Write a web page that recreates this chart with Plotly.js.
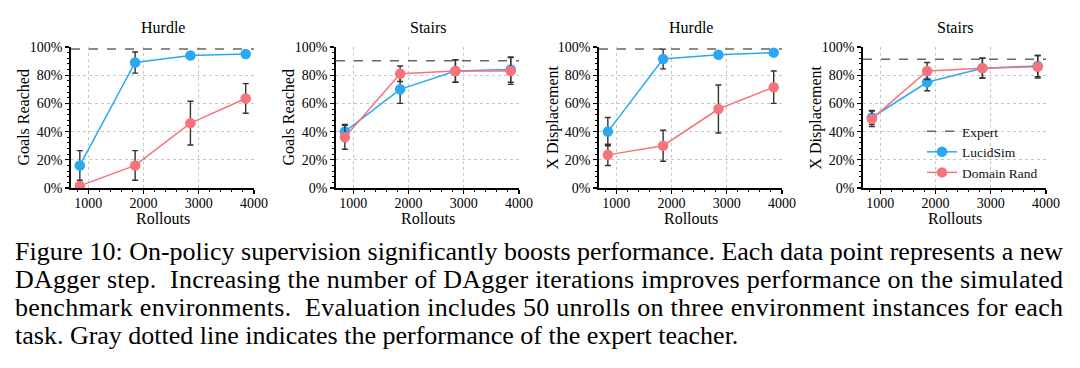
<!DOCTYPE html>
<html>
<head>
<meta charset="utf-8">
<script src="https://cdn.plot.ly/plotly-3.0.1.min.js"></script>
<style>
  html, body { margin: 0; padding: 0; background: #fff; }
  #chart { width: 1080px; height: 368px; }
</style>
</head>
<body>
<div id="chart"></div>
<script>
// ---------------- data ----------------
const rollouts = [850, 1850, 2850, 3850];
const panelTitles = ["Hurdle", "Stairs", "Hurdle", "Stairs"];
const yTitles = ["Goals Reached", "Goals Reached", "X Displacement", "X Displacement"];
const xTitle = "Rollouts";
const seriesNames = ["Expert", "LucidSim", "Domain Rand"];

const hurdleGoalsLucid = [16, 89, 94, 95];
const hurdleGoalsLucidErr = [10.5, 7.5, 1, 1.5];
const hurdleGoalsDR = [1.5, 16, 46, 63.5];
const hurdleGoalsDRErr = [1, 10.5, 15.5, 10.5];
const hurdleGoalsExpert = 98.5;

const stairsGoalsLucid = [40, 70, 83, 84];
const stairsGoalsLucidErr = [5, 10, 8, 9];
const stairsGoalsDR = [36, 81, 83, 83];
const stairsGoalsDRErr = [8.5, 5.5, 8, 9.5];
const stairsGoalsExpert = 90.3;

const hurdleXLucid = [40, 91.5, 94.5, 96];
const hurdleXLucidErr = [10, 7, 1.5, 1];
const hurdleXDR = [23.5, 30, 56, 71.5];
const hurdleXDRErr = [7.5, 11, 17, 11.5];
const hurdleXExpert = 98.6;

const stairsXLucid = [50, 75, 85, 86.5];
const stairsXLucidErr = [5, 6, 7, 7.5];
const stairsXDR = [49, 83, 85, 86];
const stairsXDRErr = [5.5, 6, 7, 8];
const stairsXExpert = 91.3;

const xTicks = [1000, 2000, 3000, 4000];
const xRange = [690, 4000];
const yRange = [0, 100];

const captionLines = [
  "Figure 10: On-policy supervision significantly boosts performance. Each data point represents a new",
  "DAgger step.  Increasing the number of DAgger iterations improves performance on the simulated",
  "benchmark environments.  Evaluation includes 50 unrolls on three environment instances for each",
  "task. Gray dotted line indicates the performance of the expert teacher."
];

// ---------------- styling ----------------
const FONT = "Liberation Serif, Times New Roman, serif";
const BLUE = "#2BA8F3";
const RED = "#F8727A";
const GRAY = "#666666";
const W = 1080, H = 368;

const panels = [
  {lucid: hurdleGoalsLucid, lucidErr: hurdleGoalsLucidErr, dr: hurdleGoalsDR, drErr: hurdleGoalsDRErr, expert: hurdleGoalsExpert},
  {lucid: stairsGoalsLucid, lucidErr: stairsGoalsLucidErr, dr: stairsGoalsDR, drErr: stairsGoalsDRErr, expert: stairsGoalsExpert},
  {lucid: hurdleXLucid, lucidErr: hurdleXLucidErr, dr: hurdleXDR, drErr: hurdleXDRErr, expert: hurdleXExpert},
  {lucid: stairsXLucid, lucidErr: stairsXLucidErr, dr: stairsXDR, drErr: stairsXDRErr, expert: stairsXExpert}
];

// plot area pixel boxes
const pxLeft = [71, 336, 599, 863];
const pxWidth = 183;
const pxTop = 47, pxBottom = 188;
const yTitleX = [23, 288, 552, 815];

const traces = [];
const layout = {
  width: W, height: H,
  margin: {l: 0, r: 0, t: 0, b: 0},
  paper_bgcolor: "#fff",
  plot_bgcolor: "#fff",
  font: {family: FONT, color: "#000"},
  showlegend: true,
  legend: {
    x: 922 / W, y: 1 - 116 / H, xanchor: "left", yanchor: "top",
    bgcolor: "rgba(0,0,0,0)", font: {family: FONT, size: 13.5, color: "#111"},
    itemwidth: 30, tracegroupgap: 0
  },
  annotations: [],
  shapes: []
};

function px2x(p) { return p / W; }
function px2y(p) { return 1 - p / H; }

panels.forEach((p, i) => {
  const n = i + 1;
  const xa = n === 1 ? "x" : "x" + n;
  const ya = n === 1 ? "y" : "y" + n;
  traces.push({
    x: xRange, y: [p.expert, p.expert], xaxis: xa, yaxis: ya,
    mode: "lines", name: seriesNames[0], legendgroup: "e", showlegend: i === 0,
    line: {color: GRAY, width: 1.5, dash: "dash"}, hoverinfo: "skip"
  });
  traces.push({
    x: rollouts, y: p.lucid, xaxis: xa, yaxis: ya,
    mode: "lines+markers", name: seriesNames[1], legendgroup: "l", showlegend: i === 0,
    line: {color: BLUE, width: 1.5}, marker: {color: BLUE, size: 10.5},
    error_y: {type: "data", array: p.lucidErr, visible: true, color: "#333", thickness: 1.4, width: 3}
  });
  traces.push({
    x: rollouts, y: p.dr, xaxis: xa, yaxis: ya,
    mode: "lines+markers", name: seriesNames[2], legendgroup: "d", showlegend: i === 0,
    line: {color: RED, width: 1.5}, marker: {color: RED, size: 10.5},
    error_y: {type: "data", array: p.drErr, visible: true, color: "#333", thickness: 1.4, width: 3}
  });

  const xKey = n === 1 ? "xaxis" : "xaxis" + n;
  const yKey = n === 1 ? "yaxis" : "yaxis" + n;
  layout[xKey] = {
    domain: [px2x(pxLeft[i]), px2x(pxLeft[i] + pxWidth)],
    anchor: ya, range: xRange, tickvals: xTicks,
    ticks: "outside", ticklen: 4, tickwidth: 1.2, tickcolor: "#000",
    ticklabelstandoff: -3,
    showline: true, linecolor: "#000", linewidth: 1.8,
    showgrid: true, gridcolor: "#c8c8c8", griddash: "dot", gridwidth: 1,
    zeroline: false, fixedrange: true,
    tickfont: {family: FONT, size: 14, color: "#000"},
    minor: {ticks: "outside", dtick: 200, tick0: 0, ticklen: 2.5, tickwidth: 1, tickcolor: "#000", showgrid: false}
  };
  layout[yKey] = {
    domain: [px2y(pxBottom), px2y(pxTop)],
    anchor: xa, range: yRange, dtick: 20, tick0: 0, ticksuffix: "%",
    ticks: "outside", ticklen: 4, tickwidth: 1.2, tickcolor: "#000",
    showline: true, linecolor: "#000", linewidth: 1.8,
    showgrid: true, gridcolor: "#c8c8c8", griddash: "dot", gridwidth: 1,
    zeroline: false, fixedrange: true,
    tickfont: {family: FONT, size: 14, color: "#000"},
    minor: {ticks: "outside", dtick: 4, tick0: 0, ticklen: 2.5, tickwidth: 1, tickcolor: "#000", showgrid: false}
  };

  const cx = pxLeft[i] + pxWidth / 2;
  layout.annotations.push({
    text: panelTitles[i], xref: "paper", yref: "paper",
    x: px2x(cx), y: px2y(27), xanchor: "center", yanchor: "middle",
    showarrow: false, font: {family: FONT, size: 16, color: "#000"}
  });
  layout.annotations.push({
    text: xTitle, xref: "paper", yref: "paper",
    x: px2x(cx), y: px2y(218), xanchor: "center", yanchor: "middle",
    showarrow: false, font: {family: FONT, size: 16, color: "#000"}
  });
  layout.annotations.push({
    text: yTitles[i], xref: "paper", yref: "paper", textangle: -90,
    x: px2x(yTitleX[i]), y: px2y((pxTop + pxBottom) / 2), xanchor: "center", yanchor: "middle",
    showarrow: false, font: {family: FONT, size: 16, color: "#000"}
  });
});

const capY = [251, 279, 307, 335];
captionLines.forEach((t, k) => {
  layout.annotations.push({
    text: t, xref: "paper", yref: "paper", align: "left",
    x: px2x(13), y: px2y(capY[k]), xanchor: "left", yanchor: "middle",
    showarrow: false, font: {family: FONT, size: 26, color: "#000"}
  });
});

Plotly.newPlot("chart", traces, layout, {displayModeBar: false, staticPlot: true}).then(() => {
  // justify the first three caption lines to the full text width
  const texts = document.querySelectorAll(".annotation-text");
  texts.forEach(el => {
    const idx = captionLines.indexOf(el.textContent);
    if (idx >= 0 && idx < 3) {
      el.setAttribute("textLength", "1048");
      el.setAttribute("lengthAdjust", "spacing");
    }
  });
});
</script>
</body>
</html>
